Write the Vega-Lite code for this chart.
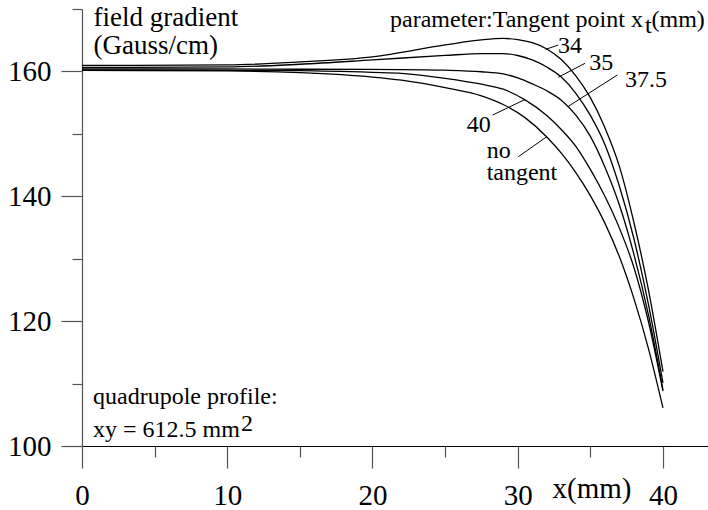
{
  "$schema": "https://vega.github.io/schema/vega-lite/v6.json",
  "autosize": "none",
  "width": 626,
  "height": 437,
  "padding": {"left": 82, "top": 9, "right": 0, "bottom": 64},
  "background": "white",
  "config": {"view": {"stroke": null}, "font": "Liberation Serif"},
  "datasets": {
    "curves": [
      {"s": "34", "x": 0, "y": 160.96}, {"s": "34", "x": 10, "y": 161.04}, {"s": "34", "x": 15, "y": 161.52}, {"s": "34", "x": 20, "y": 162.32}, {"s": "34", "x": 25, "y": 164.24}, {"s": "34", "x": 27.5, "y": 165.05}, {"s": "34", "x": 29, "y": 165.28}, {"s": "34", "x": 30, "y": 165.1}, {"s": "34", "x": 31, "y": 164.6}, {"s": "34", "x": 32, "y": 163.6}, {"s": "34", "x": 33, "y": 161.9}, {"s": "34", "x": 34, "y": 159.3}, {"s": "34", "x": 35, "y": 155.8}, {"s": "34", "x": 36, "y": 151.0}, {"s": "34", "x": 37, "y": 144.8}, {"s": "34", "x": 38, "y": 135.8}, {"s": "34", "x": 39, "y": 125.0}, {"s": "34", "x": 40, "y": 111.9},
      {"s": "35", "x": 0, "y": 160.64}, {"s": "35", "x": 10, "y": 160.72}, {"s": "35", "x": 15, "y": 161.15}, {"s": "35", "x": 20, "y": 161.84}, {"s": "35", "x": 25, "y": 162.56}, {"s": "35", "x": 27.5, "y": 162.85}, {"s": "35", "x": 29, "y": 162.85}, {"s": "35", "x": 30, "y": 162.55}, {"s": "35", "x": 31, "y": 161.85}, {"s": "35", "x": 32, "y": 160.7}, {"s": "35", "x": 33, "y": 159.1}, {"s": "35", "x": 34, "y": 156.5}, {"s": "35", "x": 35, "y": 152.95}, {"s": "35", "x": 36, "y": 148.3}, {"s": "35", "x": 37, "y": 141.6}, {"s": "35", "x": 38, "y": 133.2}, {"s": "35", "x": 39, "y": 122.7}, {"s": "35", "x": 40, "y": 110.1},
      {"s": "37.5", "x": 0, "y": 160.4}, {"s": "37.5", "x": 10, "y": 160.4}, {"s": "37.5", "x": 15, "y": 160.35}, {"s": "37.5", "x": 22, "y": 160.3}, {"s": "37.5", "x": 25, "y": 160.2}, {"s": "37.5", "x": 27.5, "y": 159.95}, {"s": "37.5", "x": 29, "y": 159.6}, {"s": "37.5", "x": 30, "y": 158.95}, {"s": "37.5", "x": 31, "y": 158.0}, {"s": "37.5", "x": 32, "y": 156.9}, {"s": "37.5", "x": 33, "y": 155.4}, {"s": "37.5", "x": 34, "y": 153.0}, {"s": "37.5", "x": 35, "y": 149.6}, {"s": "37.5", "x": 36, "y": 144.7}, {"s": "37.5", "x": 37, "y": 138.6}, {"s": "37.5", "x": 38, "y": 130.7}, {"s": "37.5", "x": 39, "y": 121.0}, {"s": "37.5", "x": 40, "y": 109.0},
      {"s": "40", "x": 0, "y": 160.24}, {"s": "40", "x": 10, "y": 160.19}, {"s": "40", "x": 15, "y": 160.12}, {"s": "40", "x": 20, "y": 159.85}, {"s": "40", "x": 22, "y": 159.7}, {"s": "40", "x": 25, "y": 158.9}, {"s": "40", "x": 27.5, "y": 157.95}, {"s": "40", "x": 29, "y": 157.15}, {"s": "40", "x": 30.5, "y": 155.45}, {"s": "40", "x": 32, "y": 152.95}, {"s": "40", "x": 33, "y": 150.7}, {"s": "40", "x": 34, "y": 148.0}, {"s": "40", "x": 35, "y": 144.3}, {"s": "40", "x": 36, "y": 140.0}, {"s": "40", "x": 37, "y": 134.9}, {"s": "40", "x": 38, "y": 128.6}, {"s": "40", "x": 39, "y": 119.9}, {"s": "40", "x": 40, "y": 108.8},
      {"s": "no tangent", "x": 0, "y": 160.16}, {"s": "no tangent", "x": 10, "y": 160.08}, {"s": "no tangent", "x": 15, "y": 159.8}, {"s": "no tangent", "x": 20, "y": 159.1}, {"s": "no tangent", "x": 22, "y": 158.6}, {"s": "no tangent", "x": 25, "y": 157.4}, {"s": "no tangent", "x": 27.5, "y": 156.1}, {"s": "no tangent", "x": 29, "y": 154.7}, {"s": "no tangent", "x": 30.5, "y": 152.6}, {"s": "no tangent", "x": 32, "y": 149.5}, {"s": "no tangent", "x": 33, "y": 146.9}, {"s": "no tangent", "x": 34, "y": 143.8}, {"s": "no tangent", "x": 35, "y": 140.1}, {"s": "no tangent", "x": 36, "y": 135.7}, {"s": "no tangent", "x": 37, "y": 130.3}, {"s": "no tangent", "x": 38, "y": 123.6}, {"s": "no tangent", "x": 39, "y": 115.6}, {"s": "no tangent", "x": 40, "y": 106.1}
    ],
    "labels": [
      {"text": "parameter:Tangent point x", "x": 21.21, "y": 167.12},
      {"text": "t", "x": 38.76, "y": 166.16},
      {"text": "(mm)", "x": 39.21, "y": 167.12},
      {"text": "34", "x": 32.77, "y": 162.95},
      {"text": "35", "x": 34.93, "y": 160.23},
      {"text": "37.5", "x": 37.39, "y": 157.46},
      {"text": "40", "x": 26.49, "y": 150.35},
      {"text": "no", "x": 27.86, "y": 146.13},
      {"text": "tangent", "x": 27.86, "y": 142.61},
      {"text": "quadrupole profile:", "x": 0.76, "y": 106.73},
      {"text": "xy = 612.5 mm", "x": 0.76, "y": 101.44},
      {"text": "2", "x": 10.95, "y": 102.4}
    ],
    "leaders": [
      {"x": 31.93, "y": 163.54, "x2": 32.79, "y2": 164.23},
      {"x": 32.79, "y": 159.06, "x2": 34.63, "y2": 161.3},
      {"x": 33.48, "y": 154.4, "x2": 36.86, "y2": 159.43},
      {"x": 28.28, "y": 153.02, "x2": 30.5, "y2": 155.5},
      {"x": 30.04, "y": 146.34, "x2": 31.99, "y2": 149.52}
    ]
  },
  "layer": [
    {
      "data": {"name": "curves"},
      "mark": {"type": "line", "interpolate": "monotone", "color": "black", "strokeWidth": 1.3},
      "encoding": {
        "x": {
          "field": "x", "type": "quantitative",
          "scale": {"domain": [0, 43.1], "nice": false, "zero": false},
          "axis": {
            "values": [0, 5, 10, 15, 20, 25, 30, 35, 40],
            "labelExpr": "datum.value % 10 === 0 ? datum.label : ''",
            "tickSize": {"condition": {"test": "datum.value % 10 === 0", "value": 22}, "value": 11},
            "grid": false, "domainColor": "black", "domainWidth": 1.2,
            "tickColor": "#555", "tickWidth": 1.2,
            "labelFont": "Liberation Serif", "labelFontSize": 29, "labelColor": "black",
            "labelPadding": 13, "labelFlush": false, "labelOverlap": false,
            "title": "x(mm)", "titleFont": "Liberation Serif", "titleFontSize": 29,
            "titleFontWeight": "normal", "titleColor": "black",
            "titleAlign": "left", "titleBaseline": "alphabetic", "titleX": 470, "titleY": 51
          }
        },
        "y": {
          "field": "y", "type": "quantitative",
          "scale": {"domain": [100, 170], "nice": false, "zero": false},
          "axis": {
            "values": [100, 110, 120, 130, 140, 150, 160, 170],
            "labelExpr": "datum.value % 20 === 0 ? datum.label : ''",
            "tickSize": {"condition": {"test": "datum.value % 20 === 0", "value": 21}, "value": 10},
            "grid": false, "domainColor": "#555", "domainWidth": 1.2,
            "tickColor": "#555", "tickWidth": 1.2,
            "labelFont": "Liberation Serif", "labelFontSize": 29, "labelColor": "black",
            "labelPadding": 10, "labelFlush": false, "labelOverlap": false,
            "title": ["field gradient", "(Gauss/cm)"], "titleFont": "Liberation Serif", "titleFontSize": 27,
            "titleFontWeight": "normal", "titleColor": "black", "titleAngle": 0,
            "titleAlign": "left", "titleBaseline": "alphabetic", "titleX": 11, "titleY": 16,
            "titleLineHeight": 28.5
          }
        },
        "detail": {"field": "s", "type": "nominal"}
      }
    },
    {
      "data": {"name": "leaders"},
      "mark": {"type": "rule", "color": "black", "strokeWidth": 1},
      "encoding": {
        "x": {"field": "x", "type": "quantitative"},
        "y": {"field": "y", "type": "quantitative"},
        "x2": {"field": "x2"},
        "y2": {"field": "y2"}
      }
    },
    {
      "data": {"name": "labels"},
      "mark": {"type": "text", "align": "left", "baseline": "alphabetic", "font": "Liberation Serif", "fontSize": 24, "color": "black"},
      "encoding": {
        "x": {"field": "x", "type": "quantitative"},
        "y": {"field": "y", "type": "quantitative"},
        "text": {"field": "text"}
      }
    }
  ]
}
